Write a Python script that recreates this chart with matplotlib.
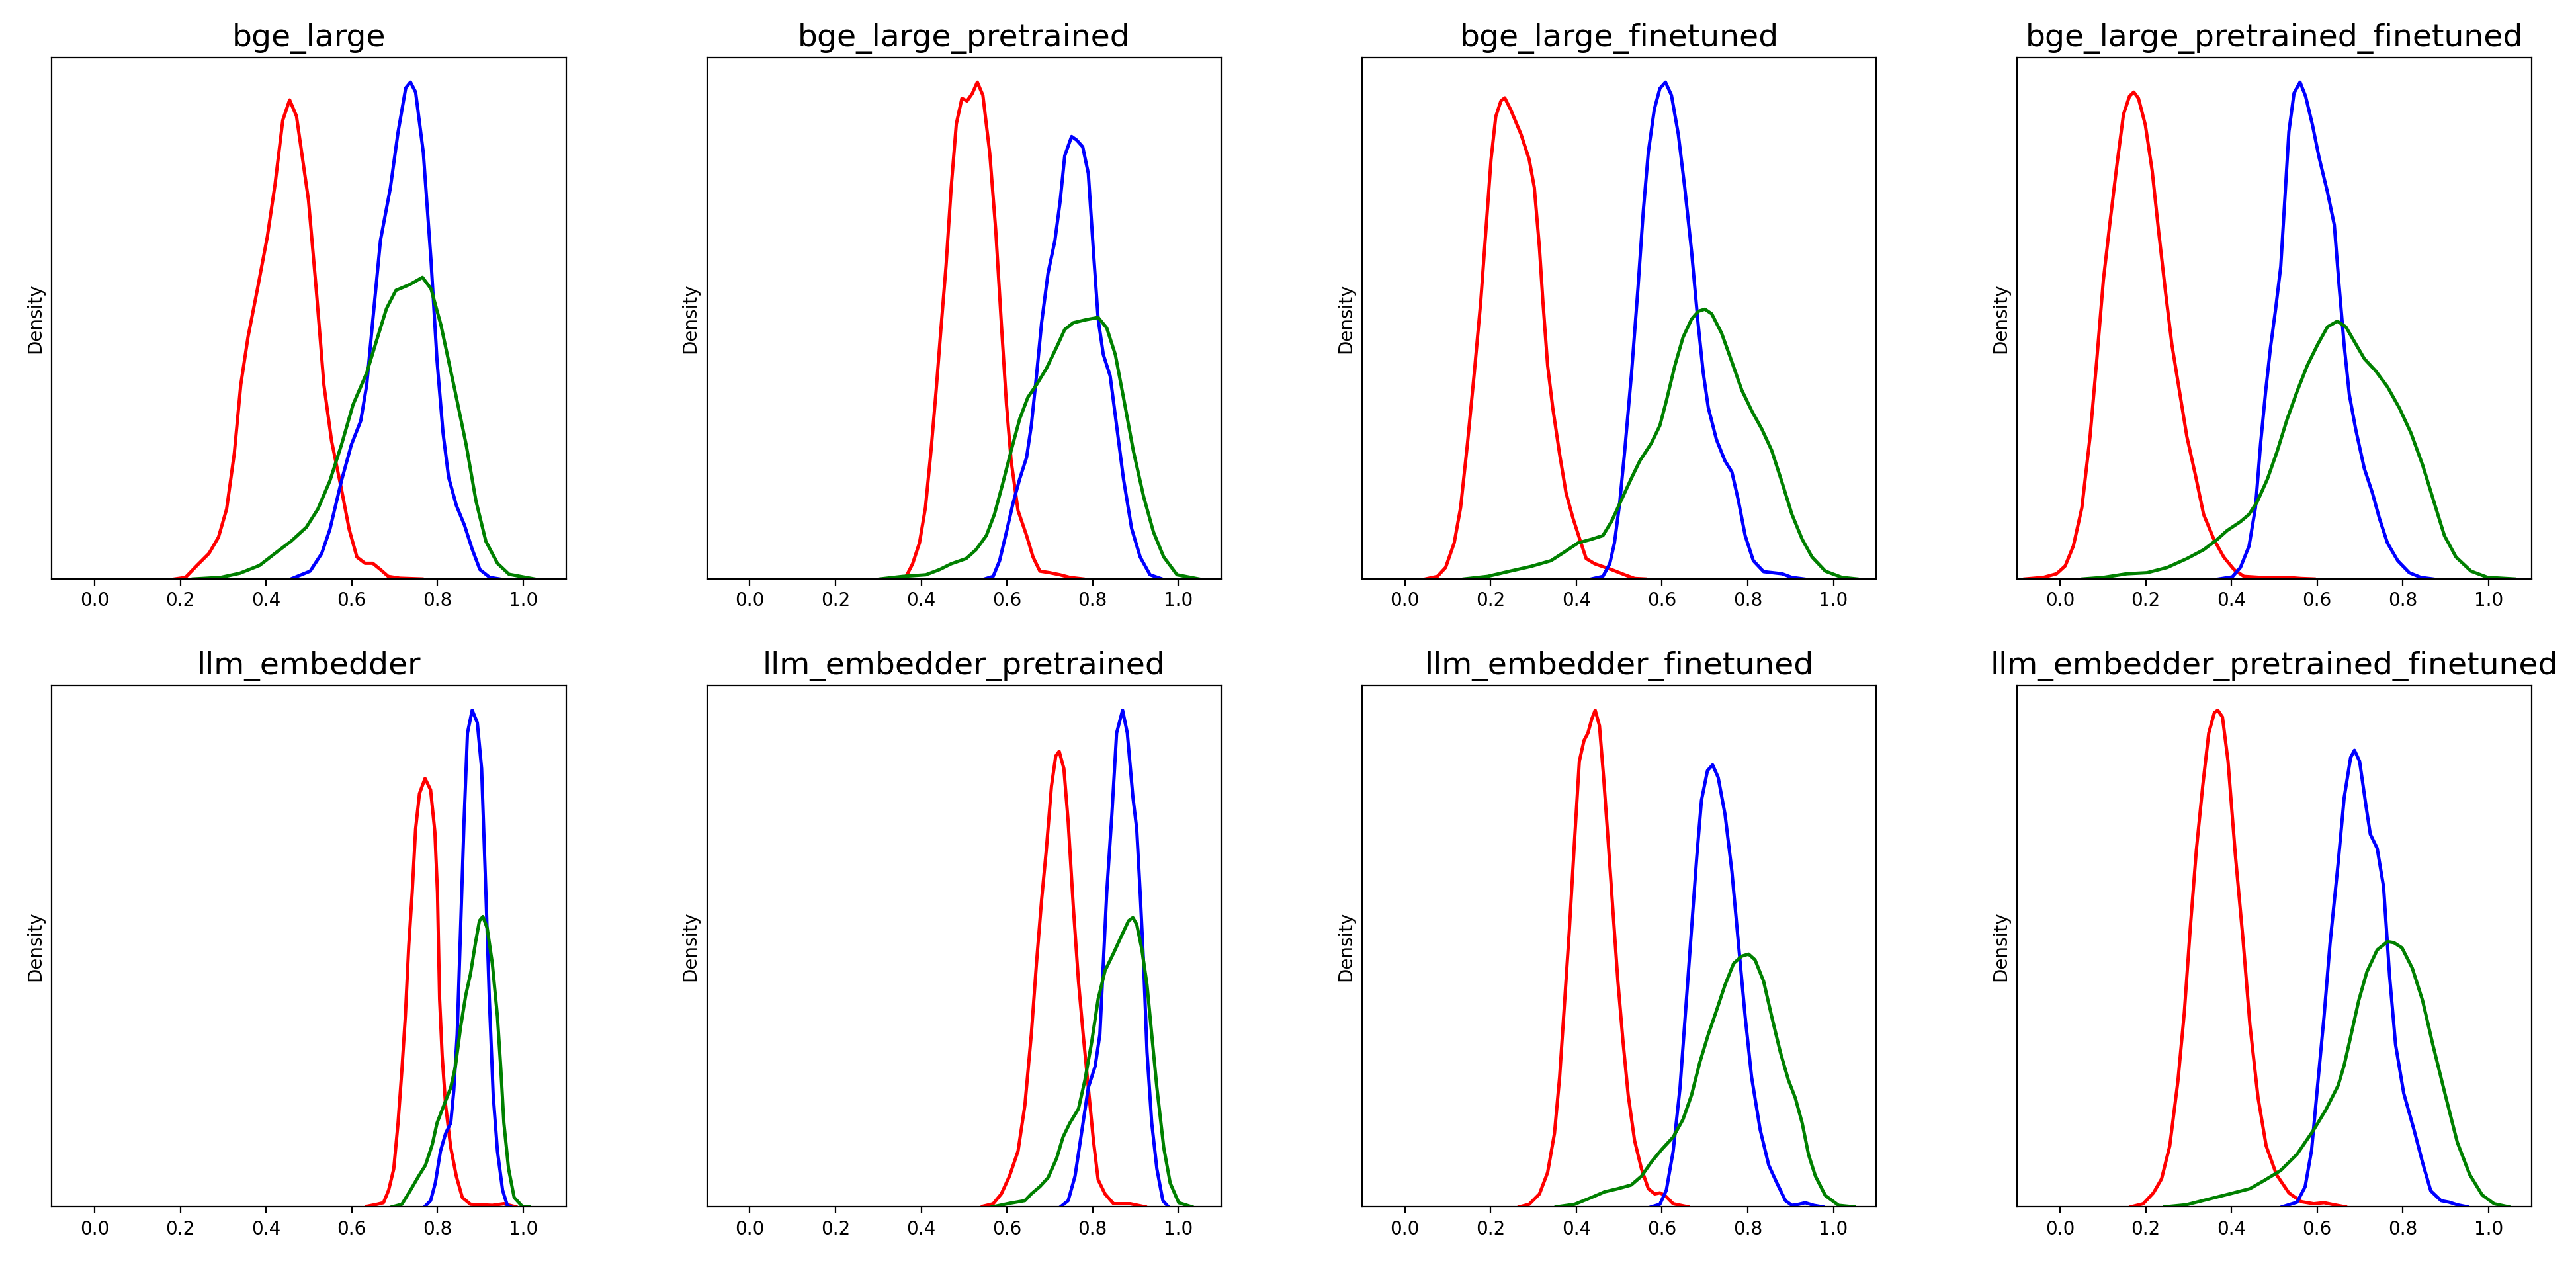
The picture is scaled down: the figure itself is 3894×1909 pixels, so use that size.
import matplotlib
matplotlib.use('Agg')
import matplotlib.pyplot as plt

# Panel titles, row by row
titles = ['bge_large', 'bge_large_pretrained', 'bge_large_finetuned', 'bge_large_pretrained_finetuned',
          'llm_embedder', 'llm_embedder_pretrained', 'llm_embedder_finetuned', 'llm_embedder_pretrained_finetuned']

# Density curves (x = score, y = density in % of the panel's height)
# bge_large
bge_large_red_x = [0.187, 0.212, 0.239, 0.267, 0.289, 0.308, 0.326, 0.341, 0.358, 0.380, 0.403, 0.421, 0.439, 0.455,
                   0.471, 0.499, 0.517, 0.535, 0.553, 0.576, 0.594, 0.612, 0.631, 0.649, 0.667, 0.685, 0.712, 0.764]
bge_large_red_y = [0, 0.3, 2.6, 4.9, 8.0, 13.4, 24.1, 37.2, 46.4, 55.6, 65.6, 75.6, 87.9, 91.8,
                   88.7, 72.6, 55.6, 37.2, 26.4, 17.2, 9.5, 4.2, 3.0, 3.0, 1.8, 0.5, 0.15, 0]
bge_large_blue_x = [0.458, 0.503, 0.530, 0.549, 0.576, 0.599, 0.621, 0.635, 0.649, 0.667, 0.690, 0.708, 0.726, 0.737,
                    0.749, 0.767, 0.785, 0.799, 0.813, 0.826, 0.844, 0.863, 0.881, 0.899, 0.922, 0.945]
bge_large_blue_y = [0, 1.5, 4.9, 9.5, 18.8, 25.7, 30.3, 37.2, 49.5, 64.9, 74.9, 85.6, 94.1, 95.2,
                    93.3, 81.7, 61.0, 41.8, 28.0, 19.5, 14.1, 10.3, 5.7, 1.8, 0.3, 0]
bge_large_green_x = [0.230, 0.294, 0.339, 0.385, 0.421, 0.458, 0.494, 0.521, 0.549, 0.576, 0.603, 0.635, 0.658,
                     0.681, 0.703, 0.735, 0.765, 0.785, 0.808, 0.840, 0.867, 0.890, 0.913, 0.940, 0.967, 1.026]
bge_large_green_y = [0, 0.3, 1.1, 2.6, 4.9, 7.2, 9.9, 13.4, 18.8, 25.7, 33.4, 39.5, 45.7,
                     51.8, 55.3, 56.4, 57.8, 55.6, 48.7, 36.4, 25.7, 14.9, 7.2, 3.0, 0.9, 0]

# bge_large_pretrained
bge_large_pre_red_x = [0.341, 0.365, 0.380, 0.396, 0.410, 0.423, 0.435, 0.446, 0.458, 0.470, 0.482, 0.495, 0.507,
                       0.519, 0.531, 0.544, 0.560, 0.574, 0.587, 0.599, 0.610, 0.626, 0.646, 0.661, 0.677, 0.700,
                       0.724, 0.747, 0.778]
bge_large_pre_red_y = [0, 0.5, 2.9, 6.9, 13.7, 24.6, 36.2, 47.8, 60.0, 75.0, 87.2, 92.1, 91.6,
                       93.0, 95.2, 92.7, 81.6, 66.8, 49.0, 33.5, 22.6, 13.1, 8.3, 4.2, 1.5, 1.2,
                       0.8, 0.3, 0]
bge_large_pre_blue_x = [0.548, 0.568, 0.583, 0.599, 0.614, 0.630, 0.646, 0.657, 0.669, 0.681, 0.696, 0.712, 0.724,
                        0.735, 0.751, 0.763, 0.777, 0.790, 0.802, 0.813, 0.825, 0.841, 0.856, 0.872, 0.891, 0.911,
                        0.934, 0.962]
bge_large_pre_blue_y = [0, 0.5, 3.5, 9.0, 14.4, 19.2, 23.3, 29.4, 38.9, 49.1, 58.6, 64.8, 72.2,
                        81.1, 84.8, 84.1, 82.8, 77.7, 62.7, 49.8, 43.0, 38.9, 29.4, 19.2, 9.7, 4.2,
                        0.8, 0]
bge_large_pre_green_x = [0.304, 0.357, 0.411, 0.443, 0.470, 0.505, 0.528, 0.552, 0.571, 0.591, 0.610, 0.630, 0.649,
                         0.669, 0.692, 0.716, 0.735, 0.755, 0.786, 0.813, 0.833, 0.853, 0.872, 0.895, 0.919, 0.942,
                         0.966, 0.997, 1.048]
bge_large_pre_green_y = [0, 0.5, 0.8, 1.8, 2.9, 3.9, 5.6, 8.3, 12.4, 18.5, 24.6, 30.7, 34.8,
                         37.2, 40.3, 44.4, 47.8, 49.1, 49.7, 50.1, 48.1, 43.0, 34.8, 24.6, 15.8, 9.0,
                         4.2, 0.8, 0]

# bge_large_finetuned
bge_large_ft_red_x = [0.048, 0.076, 0.095, 0.115, 0.130, 0.146, 0.162, 0.177, 0.189, 0.201, 0.212, 0.224, 0.233,
                      0.247, 0.271, 0.290, 0.302, 0.314, 0.322, 0.333, 0.345, 0.361, 0.376, 0.392, 0.408, 0.423,
                      0.443, 0.482, 0.513, 0.536, 0.560]
bge_large_ft_red_y = [0, 0.5, 2.2, 6.9, 13.7, 26.0, 39.6, 53.2, 66.8, 80.4, 88.6, 91.6, 92.2,
                      89.9, 85.2, 80.4, 75.0, 63.4, 53.2, 40.9, 32.8, 23.9, 16.5, 11.7, 7.6, 3.9,
                      2.9, 1.8, 0.8, 0.1, 0]
bge_large_ft_blue_x = [0.435, 0.462, 0.478, 0.489, 0.501, 0.513, 0.529, 0.544, 0.556, 0.568, 0.582, 0.595, 0.608,
                       0.622, 0.638, 0.653, 0.669, 0.684, 0.696, 0.708, 0.727, 0.747, 0.763, 0.778, 0.794, 0.813,
                       0.837, 0.880, 0.903, 0.931]
bge_large_ft_blue_y = [0, 0.5, 2.9, 6.9, 14.4, 24.6, 39.6, 55.9, 70.2, 81.8, 90.0, 94.0, 95.2,
                       92.7, 85.2, 75.0, 62.7, 49.1, 39.6, 32.8, 26.7, 22.6, 20.5, 15.1, 8.3, 3.5,
                       1.4, 1.0, 0.3, 0]
bge_large_ft_green_x = [0.138, 0.193, 0.240, 0.294, 0.341, 0.373, 0.404, 0.435, 0.462, 0.482, 0.505, 0.528, 0.548,
                        0.575, 0.595, 0.610, 0.630, 0.649, 0.669, 0.685, 0.700, 0.716, 0.739, 0.763, 0.786, 0.810,
                        0.833, 0.856, 0.880, 0.903, 0.927, 0.950, 0.981, 1.020, 1.055]
bge_large_ft_green_y = [0, 0.5, 1.4, 2.4, 3.5, 5.2, 6.9, 7.6, 8.3, 11.0, 15.1, 19.2, 22.6,
                        26.0, 29.4, 34.1, 40.9, 46.3, 49.8, 51.3, 51.7, 50.8, 47.1, 41.6, 36.2, 32.1,
                        28.7, 24.6, 18.5, 12.4, 7.6, 4.2, 1.5, 0.3, 0]

# bge_large_pretrained_finetuned
bge_large_pf_red_x = [-0.082, -0.039, -0.008, 0.012, 0.031, 0.051, 0.070, 0.086, 0.101, 0.117, 0.133, 0.148, 0.162,
                      0.172, 0.183, 0.199, 0.215, 0.230, 0.246, 0.261, 0.277, 0.296, 0.316, 0.335, 0.359, 0.382,
                      0.406, 0.429, 0.468, 0.530, 0.562, 0.593]
bge_large_pf_red_y = [0, 0.3, 1.0, 2.5, 6.3, 13.7, 27.3, 42.3, 57.3, 68.8, 79.7, 89.2, 92.7,
                      93.5, 92.3, 87.2, 78.4, 66.8, 55.2, 45.0, 36.9, 27.3, 19.9, 12.4, 7.6, 4.2,
                      1.8, 0.5, 0.3, 0.3, 0.1, 0]
bge_large_pf_blue_x = [0.371, 0.402, 0.421, 0.441, 0.456, 0.468, 0.480, 0.491, 0.503, 0.515, 0.524, 0.534, 0.546,
                       0.560, 0.573, 0.589, 0.604, 0.624, 0.640, 0.651, 0.663, 0.675, 0.690, 0.710, 0.729, 0.745,
                       0.764, 0.788, 0.815, 0.842, 0.870]
bge_large_pf_blue_y = [0, 0.4, 2.2, 6.3, 13.7, 26.0, 36.2, 44.4, 51.8, 60.0, 72.2, 85.9, 93.3,
                       95.4, 92.7, 87.2, 81.1, 74.3, 68.0, 56.5, 44.9, 35.4, 28.7, 21.2, 16.5, 11.7,
                       6.9, 3.5, 1.2, 0.3, 0]
bge_large_pf_green_x = [0.053, 0.101, 0.156, 0.203, 0.250, 0.296, 0.335, 0.367, 0.390, 0.421, 0.441, 0.460, 0.484,
                        0.507, 0.530, 0.554, 0.577, 0.601, 0.624, 0.647, 0.667, 0.686, 0.710, 0.737, 0.764, 0.792,
                        0.819, 0.846, 0.874, 0.897, 0.924, 0.959, 0.998, 1.061]
bge_large_pf_green_y = [0, 0.3, 1.0, 1.2, 2.2, 3.9, 5.6, 7.6, 9.3, 11.0, 12.4, 14.8, 19.2,
                        24.6, 30.7, 36.2, 41.0, 45.0, 48.4, 49.5, 48.4, 45.7, 42.3, 39.9, 36.9, 32.8,
                        28.0, 21.9, 14.4, 8.3, 4.2, 1.5, 0.3, 0]

# llm_embedder
llm_red_x = [0.635, 0.659, 0.674, 0.686, 0.698, 0.708, 0.717, 0.725, 0.733, 0.741, 0.749, 0.758, 0.771,
             0.784, 0.794, 0.800, 0.805, 0.811, 0.819, 0.831, 0.844, 0.858, 0.877, 0.928, 0.955, 0.983]
llm_red_y = [0.1, 0.5, 0.8, 3.2, 7.3, 16.1, 26.3, 36.5, 50.1, 60.3, 72.5, 79.3, 82.2,
             80.0, 71.9, 60.3, 39.9, 29.0, 19.5, 11.4, 5.9, 1.8, 0.5, 0.3, 0.6, 0]
llm_blue_x = [0.771, 0.784, 0.795, 0.807, 0.819, 0.831, 0.838, 0.846, 0.854, 0.862, 0.870, 0.881, 0.893,
              0.903, 0.913, 0.921, 0.930, 0.940, 0.952, 0.963, 0.971]
llm_blue_y = [0.1, 1.2, 4.6, 10.7, 14.1, 16.1, 22.2, 33.1, 53.5, 73.9, 90.9, 95.3, 92.9,
              84.1, 60.3, 39.9, 21.5, 10.7, 3.2, 0.3, 0]
llm_green_x = [0.694, 0.717, 0.737, 0.756, 0.772, 0.788, 0.799, 0.815, 0.831, 0.842, 0.854, 0.866, 0.877,
               0.889, 0.898, 0.906, 0.916, 0.928, 0.940, 0.948, 0.955, 0.966, 0.979, 0.998, 1.014]
llm_green_y = [0, 0.5, 3.2, 5.9, 8.0, 12.0, 16.1, 19.5, 22.9, 27.0, 34.5, 40.6, 44.7,
               50.8, 54.9, 55.7, 53.5, 46.7, 36.5, 26.3, 16.1, 7.3, 1.8, 0.1, 0]

# llm_embedder_pretrained
llm_pre_red_x = [0.543, 0.568, 0.587, 0.606, 0.626, 0.642, 0.657, 0.669, 0.681, 0.692, 0.704, 0.714, 0.722,
                 0.733, 0.743, 0.755, 0.767, 0.778, 0.790, 0.802, 0.813, 0.829, 0.849, 0.888, 0.923]
llm_pre_red_y = [0.1, 0.6, 2.5, 5.9, 10.7, 19.5, 33.1, 46.7, 58.9, 68.5, 80.7, 86.5, 87.4,
                 84.1, 73.9, 57.6, 43.3, 33.1, 22.9, 12.7, 5.2, 2.5, 0.6, 0.6, 0]
llm_pre_blue_x = [0.725, 0.743, 0.759, 0.774, 0.790, 0.806, 0.817, 0.825, 0.833, 0.845, 0.856, 0.870, 0.881,
                  0.894, 0.903, 0.911, 0.919, 0.927, 0.938, 0.950, 0.964, 0.977]
llm_pre_blue_y = [0, 1.2, 5.9, 14.1, 22.9, 27.0, 33.1, 46.7, 60.3, 75.3, 90.9, 95.3, 90.9,
                  78.7, 72.5, 60.3, 46.7, 29.7, 16.1, 7.3, 1.2, 0]
llm_pre_green_x = [0.566, 0.607, 0.642, 0.657, 0.677, 0.696, 0.716, 0.731, 0.747, 0.767, 0.782, 0.798, 0.813,
                   0.829, 0.849, 0.868, 0.884, 0.894, 0.903, 0.915, 0.927, 0.938, 0.950, 0.966, 0.981, 1.001,
                   1.032]
llm_pre_green_y = [0, 0.7, 1.2, 2.5, 3.9, 5.6, 9.3, 13.4, 16.1, 18.8, 24.3, 31.7, 39.9,
                   45.3, 48.7, 52.1, 54.9, 55.5, 54.2, 49.4, 42.6, 33.1, 22.9, 11.4, 4.6, 0.8,
                   0]

# llm_embedder_finetuned
llm_ft_red_x = [0.267, 0.290, 0.314, 0.333, 0.349, 0.361, 0.372, 0.384, 0.396, 0.407, 0.418, 0.427, 0.436,
                0.444, 0.454, 0.464, 0.474, 0.486, 0.497, 0.509, 0.521, 0.536, 0.552, 0.568, 0.583, 0.595,
                0.607, 0.626, 0.661]
llm_ft_red_y = [0, 0.5, 2.5, 6.6, 14.1, 24.9, 38.5, 53.5, 70.5, 85.5, 89.5, 90.9, 93.6,
                95.3, 92.3, 82.1, 70.5, 56.2, 43.3, 31.7, 21.5, 12.7, 7.3, 3.5, 2.5, 2.7,
                2.2, 0.6, 0]
llm_ft_blue_x = [0.575, 0.595, 0.610, 0.626, 0.642, 0.657, 0.669, 0.681, 0.692, 0.706, 0.718, 0.731, 0.747,
                 0.763, 0.778, 0.794, 0.809, 0.829, 0.849, 0.868, 0.888, 0.903, 0.919, 0.934, 0.954, 0.975]
llm_ft_blue_y = [0, 0.5, 3.2, 10.7, 22.9, 39.9, 53.5, 67.1, 78.0, 83.7, 84.8, 82.4, 75.3,
                 64.4, 50.8, 36.5, 24.9, 14.8, 8.0, 4.6, 1.2, 0.3, 0.5, 0.8, 0.3, 0]
llm_ft_green_x = [0.353, 0.396, 0.435, 0.466, 0.497, 0.528, 0.552, 0.575, 0.599, 0.626, 0.649, 0.669, 0.688,
                  0.708, 0.728, 0.747, 0.767, 0.786, 0.802, 0.817, 0.837, 0.856, 0.876, 0.895, 0.911, 0.927,
                  0.942, 0.958, 0.981, 1.012, 1.048]
llm_ft_green_y = [0, 0.5, 1.8, 2.9, 3.5, 4.2, 5.9, 8.6, 11.0, 13.4, 16.8, 21.5, 27.7,
                  33.1, 37.9, 42.6, 46.7, 48.1, 48.5, 47.4, 43.3, 36.5, 29.7, 24.3, 20.9, 16.1,
                  10.0, 5.9, 2.2, 0.3, 0]

# llm_embedder_pretrained_finetuned
llm_pf_red_x = [0.165, 0.194, 0.218, 0.237, 0.256, 0.275, 0.290, 0.304, 0.318, 0.333, 0.347, 0.360, 0.368,
                0.379, 0.392, 0.409, 0.427, 0.443, 0.462, 0.481, 0.505, 0.534, 0.563, 0.592, 0.616, 0.640,
                0.666]
llm_pf_red_y = [0, 0.6, 2.7, 5.4, 11.7, 24.1, 37.3, 53.6, 68.4, 80.8, 90.9, 94.8, 95.3,
                94.0, 85.5, 67.6, 51.3, 35.0, 21.0, 11.7, 6.2, 2.7, 1.0, 0.6, 0.8, 0.4,
                0]
llm_pf_blue_x = [0.518, 0.553, 0.572, 0.587, 0.601, 0.616, 0.630, 0.649, 0.663, 0.678, 0.687, 0.699, 0.714,
                 0.724, 0.740, 0.755, 0.769, 0.783, 0.802, 0.826, 0.846, 0.865, 0.889, 0.908, 0.927, 0.951]
llm_pf_blue_y = [0, 0.9, 3.9, 10.9, 23.3, 36.5, 50.5, 66.0, 78.5, 86.2, 87.6, 85.5, 76.9,
                 71.5, 68.8, 61.4, 44.3, 31.1, 21.8, 14.8, 8.5, 3.1, 1.2, 0.9, 0.4, 0]
llm_pf_green_x = [0.244, 0.294, 0.352, 0.405, 0.443, 0.477, 0.515, 0.553, 0.592, 0.620, 0.649, 0.663, 0.678,
                  0.697, 0.716, 0.740, 0.764, 0.779, 0.798, 0.822, 0.846, 0.870, 0.898, 0.927, 0.956, 0.985,
                  1.013, 1.047]
llm_pf_green_y = [0, 0.4, 1.6, 2.7, 3.5, 5.1, 7.0, 10.1, 14.8, 18.6, 23.3, 27.2, 32.6,
                  39.6, 45.1, 49.3, 50.9, 50.7, 49.7, 45.8, 39.6, 31.1, 21.8, 12.4, 6.2, 2.3,
                  0.6, 0]

panels = [
    (bge_large_red_x, bge_large_red_y, bge_large_blue_x, bge_large_blue_y, bge_large_green_x, bge_large_green_y),
    (bge_large_pre_red_x, bge_large_pre_red_y, bge_large_pre_blue_x, bge_large_pre_blue_y,
     bge_large_pre_green_x, bge_large_pre_green_y),
    (bge_large_ft_red_x, bge_large_ft_red_y, bge_large_ft_blue_x, bge_large_ft_blue_y,
     bge_large_ft_green_x, bge_large_ft_green_y),
    (bge_large_pf_red_x, bge_large_pf_red_y, bge_large_pf_blue_x, bge_large_pf_blue_y,
     bge_large_pf_green_x, bge_large_pf_green_y),
    (llm_red_x, llm_red_y, llm_blue_x, llm_blue_y, llm_green_x, llm_green_y),
    (llm_pre_red_x, llm_pre_red_y, llm_pre_blue_x, llm_pre_blue_y, llm_pre_green_x, llm_pre_green_y),
    (llm_ft_red_x, llm_ft_red_y, llm_ft_blue_x, llm_ft_blue_y, llm_ft_green_x, llm_ft_green_y),
    (llm_pf_red_x, llm_pf_red_y, llm_pf_blue_x, llm_pf_blue_y, llm_pf_green_x, llm_pf_green_y),
]

fig, axes = plt.subplots(2, 4, figsize=(19.47, 9.545), dpi=200)
plt.subplots_adjust(left=0.0201, right=0.9827, bottom=0.0444, top=0.9546, wspace=0.274, hspace=0.204)

for ax, title, (rx, ry, bx, by, gx, gy) in zip(axes.flat, titles, panels):
    ax.plot(rx, ry, color='red', linewidth=1.8)
    ax.plot(bx, by, color='blue', linewidth=1.8)
    ax.plot(gx, gy, color='green', linewidth=1.8)
    ax.set_title(title, fontsize=17)
    ax.set_ylabel('Density')
    ax.set_yticks([])
    ax.set_xlim(-0.1, 1.1)
    ax.set_xticks([0.0, 0.2, 0.4, 0.6, 0.8, 1.0])
    ax.set_ylim(0, max(ry + by + gy) * 1.05)

plt.savefig('out.png', dpi=200)
